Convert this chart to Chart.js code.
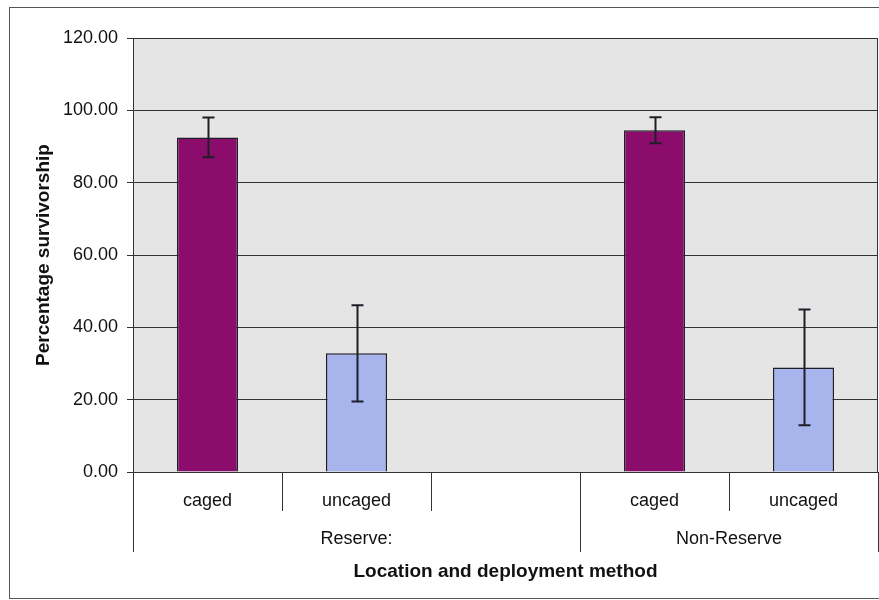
<!DOCTYPE html>
<html>
<head>
<meta charset="utf-8">
<title>Percentage survivorship</title>
<script src="https://cdn.jsdelivr.net/npm/chart.js@4.4.0/dist/chart.umd.min.js"></script>
<style>
  html, body { margin: 0; padding: 0; background: #fff; }
  #wrap { position: relative; width: 879px; height: 600px; }
</style>
</head>
<body>
<div id="wrap"><canvas id="survChart"></canvas></div>
<script>
// Data
const categories = ['caged', 'uncaged', '', 'caged', 'uncaged'];
const locations = ['Reserve:', 'Reserve:', 'Reserve:', 'Non-Reserve', 'Non-Reserve'];
const survivorship = [92.5, 32.8, null, 94.5, 28.9];
const errorMargin = [5.5, 13.3, null, 3.6, 16.0];
const yTicks = [0, 20, 40, 60, 80, 100, 120];

const CAGED_COLOR = '#8c0c6c';
const UNCAGED_COLOR = '#a8b5ec';
const LINE_COLOR = '#1e1e28';
const FONT = 'Liberation Sans, Arial, sans-serif';

document.addEventListener('DOMContentLoaded', function() {
    createSurvivorshipChart();
});

// Background, plot area fill and outer frame
const backgroundPlugin = {
    id: 'background',
    beforeDraw(chart) {
        const { ctx, chartArea: a } = chart;
        ctx.save();
        ctx.fillStyle = '#ffffff';
        ctx.fillRect(0, 0, chart.width, chart.height);
        ctx.fillStyle = '#e5e5e5';
        ctx.fillRect(a.left, a.top, a.right - a.left, a.bottom - a.top);
        ctx.strokeStyle = '#555';
        ctx.lineWidth = 1;
        ctx.strokeRect(9.5, 7.5, chart.width + 10, 591);
        ctx.restore();
    }
};

// Error bars, plot border, category dividers and location labels
const decorPlugin = {
    id: 'decor',
    afterDatasetsDraw(chart) {
        const { ctx, chartArea: a, scales } = chart;
        const x = scales.x, y = scales.y;
        const slot = (x.getPixelForValue(1) - x.getPixelForValue(0));

        ctx.save();
        ctx.strokeStyle = LINE_COLOR;

        // error bars
        ctx.lineWidth = 2;
        survivorship.forEach((v, i) => {
            if (v === null || errorMargin[i] === null) return;
            const cx = Math.round(x.getPixelForValue(i)) + 0.5;
            const top = y.getPixelForValue(v + errorMargin[i]);
            const bot = y.getPixelForValue(v - errorMargin[i]);
            ctx.beginPath();
            ctx.moveTo(cx, top);
            ctx.lineTo(cx, bot);
            ctx.moveTo(cx - 6, top);
            ctx.lineTo(cx + 6, top);
            ctx.moveTo(cx - 6, bot);
            ctx.lineTo(cx + 6, bot);
            ctx.stroke();
        });

        // plot area border
        ctx.lineWidth = 1;
        ctx.strokeStyle = '#333';
        ctx.strokeRect(Math.round(a.left) + 0.5, Math.round(a.top) + 0.5,
            Math.round(a.right - a.left) - 1, Math.round(a.bottom - a.top));

        // dividers below the axis
        for (let i = 0; i <= categories.length; i++) {
            const bx = Math.round(x.getPixelForValue(i) - slot / 2) + 0.5;
            const groupEdge = i === 0 || i === categories.length || locations[i] !== locations[i - 1];
            ctx.beginPath();
            ctx.moveTo(bx, a.bottom);
            ctx.lineTo(bx, a.bottom + (groupEdge ? 80 : 39));
            ctx.stroke();
        }

        // location labels spanning their categories
        ctx.fillStyle = '#111';
        ctx.font = '18px ' + FONT;
        ctx.textAlign = 'center';
        ctx.textBaseline = 'middle';
        let start = 0;
        for (let i = 1; i <= locations.length; i++) {
            if (i === locations.length || locations[i] !== locations[start]) {
                const left = x.getPixelForValue(start) - slot / 2;
                const right = x.getPixelForValue(i - 1) + slot / 2;
                ctx.fillText(locations[start], (left + right) / 2, a.bottom + 67);
                start = i;
            }
        }
        ctx.restore();
    }
};

function createSurvivorshipChart() {
    const ctx = document.getElementById('survChart').getContext('2d');

    new Chart(ctx, {
        type: 'bar',
        data: {
            labels: categories,
            datasets: [{
                label: 'Percentage survivorship',
                data: survivorship,
                backgroundColor: categories.map(c => c === 'caged' ? CAGED_COLOR : UNCAGED_COLOR),
                borderColor: LINE_COLOR,
                borderWidth: 1.5,
                categoryPercentage: 1,
                barPercentage: 0.41
            }]
        },
        options: {
            responsive: true,
            maintainAspectRatio: false,
            animation: false,
            layout: {
                padding: { top: 38, right: 1, bottom: 0, left: 0 }
            },
            plugins: {
                legend: { display: false },
                tooltip: { enabled: false }
            },
            scales: {
                x: {
                    grid: { display: false },
                    border: { display: true, color: '#333' },
                    ticks: {
                        font: { family: FONT, size: 18 },
                        color: '#111',
                        padding: 10,
                        maxRotation: 0,
                        autoSkip: false
                    },
                    title: {
                        display: true,
                        text: 'Location and deployment method',
                        font: { family: FONT, size: 19, weight: 'bold' },
                        color: '#111',
                        padding: { top: 0, bottom: 17 }
                    },
                    afterFit: scale => { scale.height = 128; }
                },
                y: {
                    min: 0,
                    max: 120,
                    afterBuildTicks: scale => {
                        scale.ticks = yTicks.map(v => ({ value: v }));
                    },
                    grid: {
                        color: '#333',
                        lineWidth: 1,
                        tickLength: 6
                    },
                    border: { display: true, color: '#333' },
                    ticks: {
                        font: { family: FONT, size: 18 },
                        color: '#111',
                        padding: 9,
                        callback: v => Number(v).toFixed(2)
                    },
                    title: {
                        display: true,
                        text: 'Percentage survivorship',
                        font: { family: FONT, size: 19, weight: 'bold' },
                        color: '#111',
                        padding: { top: 32, bottom: 0 }
                    },
                    afterFit: scale => { scale.width = 133; }
                }
            }
        },
        plugins: [backgroundPlugin, decorPlugin]
    });
}
</script>
</body>
</html>
